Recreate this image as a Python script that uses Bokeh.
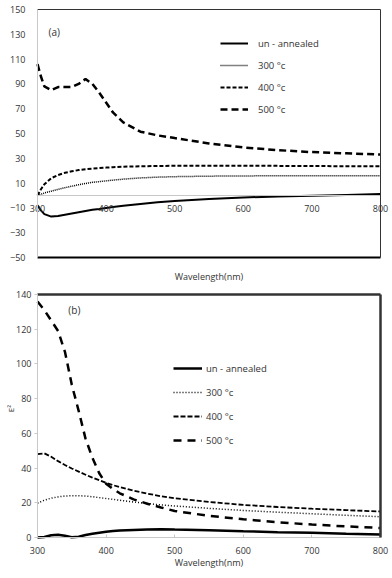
import math
from bokeh.plotting import figure
from bokeh.models import Range1d, LinearAxis, FixedTicker, Legend, LegendItem, Label
from bokeh.layouts import column
from bokeh.embed import file_html
from bokeh.resources import INLINE

FONT = "Open Sans"
TXT = "#333333"

# ---------------- data: panel (a) ----------------
wl_a = [300, 305, 310, 320, 330, 340, 350, 360, 370, 380, 390, 400, 410, 425,
        450, 475, 500, 550, 600, 650, 700, 750, 800]
a_unannealed = [-8, -12, -15, -17, -16.5, -15.5, -14.5, -13.5, -12.5, -11.5, -10.8, -10,
                -9.3, -8.3, -6.8, -5.5, -4.4, -2.8, -1.6, -0.8, -0.2, 0.5, 1.2]
a_300 = [0, 1, 2, 3.5, 5, 6.3, 7.5, 8.7, 9.7, 10.6, 11.2, 11.8, 12.4, 13.2,
         14.2, 14.8, 15.2, 15.6, 15.8, 15.9, 16, 16, 16]
a_400 = [0, 5, 9, 14, 16.5, 18.3, 19.5, 20.5, 21.2, 21.7, 22.2, 22.5, 22.8, 23.2,
         23.6, 23.8, 24, 24, 24, 23.9, 23.8, 23.6, 23.5]
a_500 = [106, 96, 88, 85, 87.5, 87.5, 87.5, 90, 94, 90, 83, 75, 67, 59,
         51.5, 48.5, 46.3, 42, 38.8, 36.6, 35, 34, 33]

# ---------------- data: panel (b) ----------------
wl_b = [300, 310, 320, 330, 340, 350, 360, 370, 380, 390, 400, 410, 420, 440,
        460, 480, 500, 550, 600, 650, 700, 750, 800]
b_unannealed = [0, 0.3, 1.3, 1.6, 1.0, 0.2, 0.5, 1.5, 2.2, 2.8, 3.3, 3.7, 4.0, 4.4,
                4.7, 4.8, 4.6, 4.2, 3.6, 3.1, 2.7, 2.2, 1.8]
b_300 = [19.8, 21.5, 22.7, 23.4, 23.9, 24.1, 24.1, 23.9, 23.5, 23.0, 22.5, 22, 21.5, 20.5,
         19.6, 18.8, 18.2, 16.8, 15.6, 14.6, 13.7, 12.8, 12]
b_400 = [48, 48.5, 46.5, 44, 41.8, 39.8, 38, 36.2, 34.5, 33, 31.5, 30.2, 29, 27,
         25.3, 23.8, 22.6, 20.5, 18.8, 17.6, 16.6, 15.8, 15]
b_500 = [136, 131, 125, 119, 107, 88, 73, 57, 46, 37, 31, 28, 25.5, 22,
         19.5, 17.3, 15.3, 12.5, 10.5, 8.8, 7.5, 6.4, 5.5]

labels = ["un - annealed", "300 \u00b0c", "400 \u00b0c", "500 \u00b0c"]
x_ticks = [300, 400, 500, 600, 700, 800]
ya_ticks = [-50, -30, -10, 10, 30, 50, 70, 90, 110, 130, 150]
yb_ticks = [0, 20, 40, 60, 80, 100, 120, 140]

X_MIN, X_MAX = 300, 800
YA_MIN, YA_MAX = -50, 150
YB_MIN, YB_MAX = 0, 140


def style_ticks(ax):
    ax.major_label_text_font = FONT
    ax.major_label_text_font_size = "9px"
    ax.major_label_text_color = TXT
    ax.minor_tick_line_color = None


def border_axis(loc, bounds, color, width):
    return LinearAxis(ticker=FixedTicker(ticks=[]), fixed_location=loc, bounds=bounds,
                      axis_line_color=color, axis_line_width=width,
                      major_tick_line_color=None, minor_tick_line_color=None,
                      major_label_text_font_size="0px")


def base_fig(h, yr):
    p = figure(width=392, height=h, output_backend="svg", toolbar_location=None,
               x_range=Range1d(246.06, 817.5), y_range=Range1d(*yr),
               min_border_left=0, min_border_right=0, min_border_top=0, min_border_bottom=0)
    p.outline_line_color = None
    p.xgrid.visible = False
    p.ygrid.visible = False
    return p


# ================= panel (a) =================
pa = base_fig(285, (-72.6, 157.3))

xa = pa.xaxis[0]
xa.ticker = FixedTicker(ticks=x_ticks)
xa.fixed_location = 0
xa.bounds = (X_MIN, X_MAX)
xa.axis_line_color = "#c8c8c8"
xa.major_tick_line_color = None
xa.major_label_standoff = 3
style_ticks(xa)

ya = pa.yaxis[0]
ya.ticker = FixedTicker(ticks=ya_ticks)
ya.fixed_location = X_MIN
ya.bounds = (YA_MIN, YA_MAX)
ya.axis_line_color = "#c8c8c8"
ya.major_tick_line_color = None
ya.major_label_standoff = 6
style_ticks(ya)

pa.add_layout(border_axis(YA_MIN, (X_MIN, X_MAX), "black", 2), "below")
pa.add_layout(border_axis(YA_MAX, (X_MIN, X_MAX), "#333333", 1), "above")
pa.add_layout(border_axis(X_MAX, (YA_MIN, YA_MAX), "#333333", 1), "right")

ra0 = pa.line(wl_a, a_unannealed, line_color="black", line_width=2)
ra1 = pa.line(wl_a, a_300, line_color="black", line_width=1.5, line_dash="1 1")
ra2 = pa.line(wl_a, a_400, line_color="black", line_width=2, line_dash="4 2")
ra3 = pa.line(wl_a, a_500, line_color="black", line_width=2.5, line_dash="7 4")

leg_a = Legend(items=[LegendItem(label=l, renderers=[r]) for l, r in zip(labels, [ra0, ra1, ra2, ra3])],
               location=(220, 166), background_fill_alpha=0, border_line_color=None,
               glyph_width=28, glyph_height=20, label_height=20, spacing=2, label_standoff=10,
               padding=0, margin=0, label_text_font=FONT, label_text_font_size="9.5px",
               label_text_color=TXT)
pa.add_layout(leg_a)
pa.add_layout(Label(x=316, y=132, text="(a)", text_font=FONT, text_font_size="10px",
                    text_color=TXT, text_baseline="middle"))
pa.add_layout(Label(x=(X_MIN + X_MAX) / 2, y=-65.3, text="Wavelength(nm)", text_font=FONT,
                    text_font_size="9px", text_color=TXT, text_align="center",
                    text_baseline="middle"))

# ================= panel (b) =================
pb = base_fig(293, (-23.6, 145.2))

xb = pb.xaxis[0]
xb.ticker = FixedTicker(ticks=x_ticks)
xb.fixed_location = 0
xb.bounds = (X_MIN, X_MAX)
xb.axis_line_color = "#c8c8c8"
xb.major_tick_line_color = "#c8c8c8"
xb.major_tick_in = 3
xb.major_tick_out = 0
xb.major_label_standoff = 9
style_ticks(xb)

yb = pb.yaxis[0]
yb.ticker = FixedTicker(ticks=yb_ticks)
yb.fixed_location = X_MIN
yb.bounds = (YB_MIN, YB_MAX)
yb.axis_line_color = "#c8c8c8"
yb.major_tick_line_color = "#c8c8c8"
yb.major_tick_in = 0
yb.major_tick_out = 3
yb.major_label_standoff = 3
style_ticks(yb)

pb.add_layout(border_axis(YB_MAX, (X_MIN, X_MAX), "#333333", 2.5), "above")
pb.add_layout(border_axis(X_MAX, (YB_MIN, YB_MAX), "#333333", 2.5), "right")

rb0 = pb.line(wl_b, b_unannealed, line_color="black", line_width=2.5)
rb1 = pb.line(wl_b, b_300, line_color="black", line_width=1.5, line_dash="1 2")
rb2 = pb.line(wl_b, b_400, line_color="black", line_width=1.8, line_dash="5 2")
rb3 = pb.line(wl_b, b_500, line_color="black", line_width=2.5, line_dash="8 6")

leg_b = Legend(items=[LegendItem(label=l, renderers=[r]) for l, r in zip(labels, [rb0, rb1, rb2, rb3])],
               location=(173, 127), background_fill_alpha=0, border_line_color=None,
               glyph_width=29, glyph_height=22, label_height=22, spacing=2, label_standoff=4,
               padding=0, margin=0, label_text_font=FONT, label_text_font_size="9.5px",
               label_text_color=TXT)
pb.add_layout(leg_b)
pb.add_layout(Label(x=345, y=131, text="(b)", text_font=FONT, text_font_size="10px",
                    text_color=TXT, text_baseline="middle"))
pb.add_layout(Label(x=(X_MIN + X_MAX) / 2, y=-14.4, text="Wavelength(nm)", text_font=FONT,
                    text_font_size="9px", text_color=TXT, text_align="center",
                    text_baseline="middle"))
pb.add_layout(Label(x=260.6, y=74.3, text="E\u00b2", angle=math.pi / 2, text_font=FONT,
                    text_font_size="8px", text_color=TXT, text_align="center",
                    text_baseline="middle"))

layout = column(pa, pb, spacing=0)
open("out.html", "w").write(file_html(layout, INLINE))
